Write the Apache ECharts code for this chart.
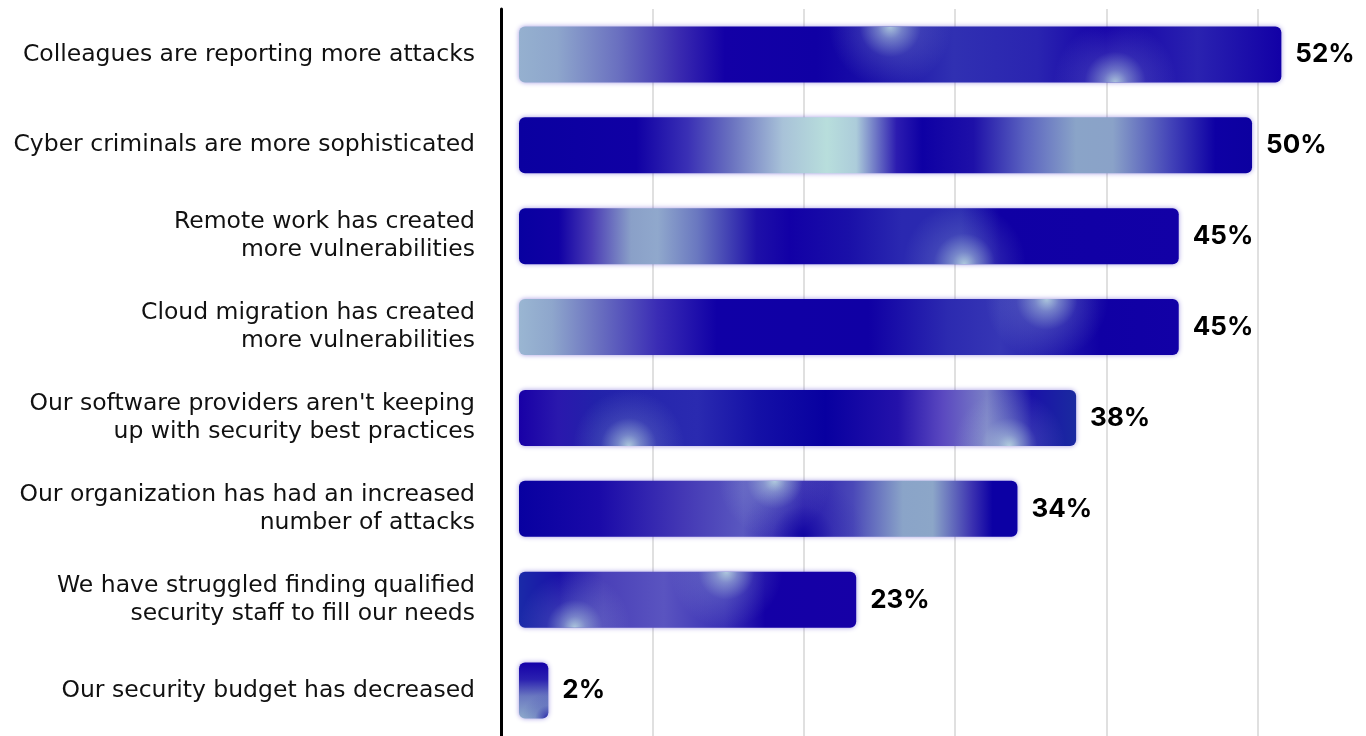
<!DOCTYPE html>
<html>
<head>
<meta charset="utf-8">
<script src="https://cdn.jsdelivr.net/npm/echarts@6/dist/echarts.min.js"></script>
<style>
  html, body { margin: 0; padding: 0; background: #ffffff; }
  #chart { width: 1366px; height: 736px; }
</style>
</head>
<body>
<div id="chart"></div>
<script>
// Reasons given for rising concern about security threats (share of respondents, %)
const reasons = [
  "Colleagues are reporting more attacks",
  "Cyber criminals are more sophisticated",
  "Remote work has created\nmore vulnerabilities",
  "Cloud migration has created\nmore vulnerabilities",
  "Our software providers aren't keeping\nup with security best practices",
  "Our organization has had an increased\nnumber of attacks",
  "We have struggled finding qualified\nsecurity staff to fill our needs",
  "Our security budget has decreased"
];
const shares = [52, 50, 45, 45, 38, 34, 23, 2];
const gridStep = 10;

// ---- fills: a horizontal wash per bar plus soft highlight spots ----
function wash(stops, vertical) {
  return {
    type: "linear", x: 0, y: 0, x2: vertical ? 0 : 1, y2: vertical ? 1 : 0,
    colorStops: stops.map(s => ({ offset: s[0], color: s[1] }))
  };
}
const washes = [
  wash([[0, "#95b0cf"], [0.05, "#8ea6cc"], [0.13, "#6a70c0"], [0.21, "#3a2ab0"], [0.27, "#1300a6"],
        [0.39, "#1000a4"], [0.47, "#1a10a8"], [0.57, "#3030b2"], [0.68, "#2a24b0"], [0.77, "#1400a8"],
        [0.89, "#2a22b0"], [1, "#1200a6"]]),
  wash([[0, "#0a00a0"], [0.16, "#1000a4"], [0.23, "#3a30b5"], [0.29, "#6a72c0"], [0.36, "#a8c2d8"],
        [0.42, "#b8dedc"], [0.46, "#acccda"], [0.515, "#2c1cb0"], [0.55, "#0e00a4"], [0.62, "#1e10a8"],
        [0.69, "#5a62c0"], [0.76, "#8aa4c8"], [0.81, "#8aa2c8"], [0.89, "#4242b8"], [0.95, "#0e00a4"],
        [1, "#0c00a0"]]),
  wash([[0, "#0800a0"], [0.06, "#1000a4"], [0.11, "#4a3cb5"], [0.17, "#8aa0c8"], [0.21, "#90a8cc"],
        [0.27, "#6a78c0"], [0.36, "#1e10a8"], [0.41, "#1200a6"], [0.5, "#1a10a8"], [0.58, "#2a28b0"],
        [0.67, "#2a2ab0"], [0.73, "#1000a4"], [1, "#1200a6"]]),
  wash([[0, "#9ab6d2"], [0.05, "#8ea6cc"], [0.12, "#6a70c0"], [0.21, "#3a2cb5"], [0.3, "#1000a6"],
        [0.53, "#1000a4"], [0.65, "#2c2ab0"], [0.73, "#3636b5"], [0.88, "#1000a4"], [1, "#1200a6"]]),
  wash([[0, "#1800a6"], [0.07, "#2a18ad"], [0.14, "#2222aa"], [0.32, "#2a2ab0"], [0.43, "#1410a6"],
        [0.55, "#0800a0"], [0.68, "#2412aa"], [0.76, "#5a48c0"], [0.84, "#7a80c6"], [0.92, "#1a12a8"],
        [1, "#1a2aa0"]]),
  wash([[0, "#0800a0"], [0.16, "#1a0aa8"], [0.33, "#4438b5"], [0.45, "#5a58c0"], [0.57, "#2c1eae"],
        [0.67, "#4a48b8"], [0.77, "#8aa4c8"], [0.83, "#8ca6c8"], [0.91, "#3a30b0"], [0.95, "#0c00a4"],
        [1, "#0c00a4"]]),
  wash([[0, "#1a2aa8"], [0.12, "#1a10a8"], [0.25, "#4a40b8"], [0.43, "#5a54c0"], [0.61, "#3a30b5"],
        [0.73, "#1400a6"], [1, "#1600a6"]]),
  wash([[0, "#1400a8"], [0.3, "#2a20b0"], [0.6, "#6a78c0"], [1, "#8eaacc"]], true)
];

function spot(x, y, r, rgb) {
  return {
    type: "radial", x: x, y: y, r: r,
    colorStops: [
      { offset: 0, color: "rgba(" + rgb + ",0.85)" },
      { offset: 0.2, color: "rgba(" + rgb + ",0.5)" },
      { offset: 0.5, color: "rgba(" + rgb + ",0.14)" },
      { offset: 1, color: "rgba(" + rgb + ",0)" }
    ]
  };
}
const MINT = "196,228,228";
const NAVY = "12,0,160";
const clear = "rgba(0,0,0,0)";
// first highlight layer, one entry per bar
const spotsA = [
  spot(0.487, 0.0, 1.1, MINT),
  clear,
  spot(0.675, 1.0, 1.1, MINT),
  spot(0.8, 0.0, 1.1, MINT),
  spot(0.197, 1.0, 1.0, MINT),
  spot(0.513, 0.0, 1.0, MINT),
  spot(0.165, 1.0, 1.0, MINT),
  spot(1.0, 1.0, 0.9, NAVY)
];
// second highlight layer, one entry per bar
const spotsB = [
  spot(0.782, 1.0, 1.1, MINT),
  clear,
  clear,
  clear,
  spot(0.88, 1.0, 1.0, MINT),
  spot(0.57, 1.0, 1.1, NAVY),
  spot(0.615, 0.0, 1.0, MINT),
  clear
];

const LABEL_FONT = "DejaVu Sans";
const VALUE_FONT = "Inter";
const BAR_H = 56;

const chart = echarts.init(document.getElementById("chart"), null, { renderer: "canvas" });

const barBase = {
  type: "bar",
  xAxisIndex: 0,
  yAxisIndex: 0,
  barWidth: BAR_H,
  barGap: "-100%",
  animation: false,
  silent: true
};

chart.setOption({
  backgroundColor: "#ffffff",
  animation: false,
  grid: [
    { left: 519, right: 26, top: 9, bottom: 0 },
    { left: 501, right: 0, top: 9, bottom: 0 }
  ],
  xAxis: [
    { gridIndex: 0, type: "value", min: 0, max: 56, show: false },
    {
      gridIndex: 1, type: "value", min: 0, max: 57.15, interval: gridStep,
      axisLine: { show: false }, axisTick: { show: false }, axisLabel: { show: false },
      splitLine: {
        show: true, showMinLine: false, showMaxLine: false,
        lineStyle: { color: "#e0e0e0", width: 2 }
      }
    }
  ],
  yAxis: [
    {
      gridIndex: 0, type: "category", data: reasons, inverse: true, offset: 18, z: 10,
      axisLine: { show: true, onZero: false, lineStyle: { color: "#000000", width: 3 } },
      axisTick: { show: false },
      splitLine: { show: false },
      axisLabel: {
        margin: 26, color: "#111111", fontFamily: LABEL_FONT, fontSize: 23.5, lineHeight: 28, align: "right"
      }
    },
    { gridIndex: 1, type: "category", data: reasons, inverse: true, show: false }
  ],
  series: [
    Object.assign({}, barBase, {
      name: "Share",
      z: 3,
      itemStyle: {
        borderRadius: 6,
        shadowBlur: 5,
        shadowColor: "rgba(70,50,200,0.5)"
      },
      label: {
        show: true, position: "right", distance: 14, formatter: "{c}%",
        color: "#000000", fontFamily: VALUE_FONT, fontWeight: "bold", fontSize: 26
      },
      data: shares.map((v, i) => ({ value: v, itemStyle: { color: washes[i] } }))
    }),
    Object.assign({}, barBase, {
      name: "glint-a", z: 4,
      itemStyle: { borderRadius: 6 },
      data: shares.map((v, i) => ({ value: v, itemStyle: { color: spotsA[i] } }))
    }),
    Object.assign({}, barBase, {
      name: "glint-b", z: 5,
      itemStyle: { borderRadius: 6 },
      data: shares.map((v, i) => ({ value: v, itemStyle: { color: spotsB[i] } }))
    })
  ]
});
</script>
</body>
</html>
